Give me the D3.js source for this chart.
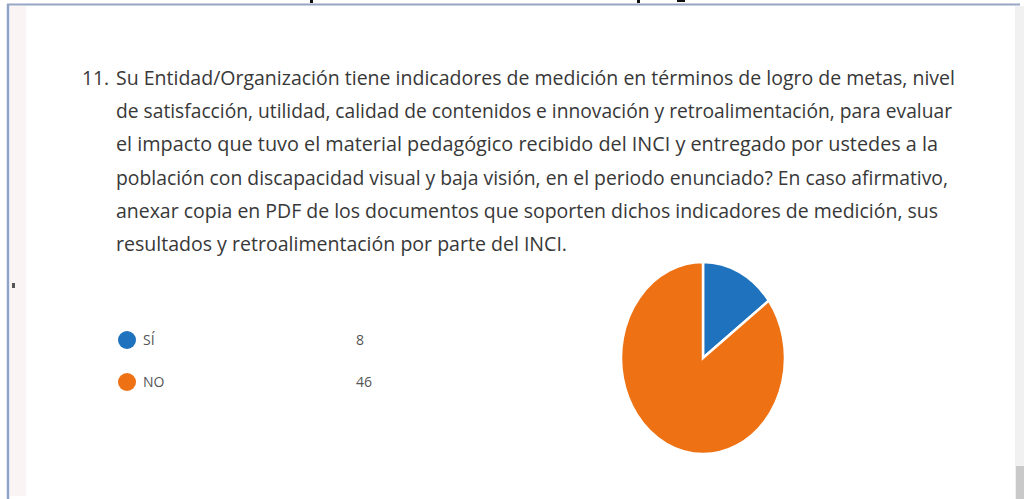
<!DOCTYPE html>
<html>
<head>
<meta charset="utf-8">
<script src="https://cdn.jsdelivr.net/npm/d3@7"></script>
<style>
  body { margin: 0; background: #fff; }
  svg { display: block; }
</style>
</head>
<body>
<script>
// data
const categories = ["SÍ", "NO"]
const counts = [8, 46]
const colors = ["#1f72bd", "#ee7114"]

const questionNumber = "11."
const questionLines = [
  "Su Entidad/Organización tiene indicadores de medición en términos de logro de metas, nivel",
  "de satisfacción, utilidad, calidad de contenidos e innovación y retroalimentación, para evaluar",
  "el impacto que tuvo el material pedagógico recibido del INCI y entregado por ustedes a la",
  "población con discapacidad visual y baja visión, en el periodo enunciado? En caso afirmativo,",
  "anexar copia en PDF de los documentos que soporten dichos indicadores de medición, sus",
  "resultados y retroalimentación por parte del INCI."
]
const lineWidths = [839, 836, 822, 832, 822, 451]

const width = 1024
const height = 499

const svg = d3.select("body").append("svg")
    .attr("width", width)
    .attr("height", height)

// frame of the screenshot
svg.append("rect")
    .attr("x", 10).attr("y", 6).attr("width", 16).attr("height", 490)
    .style("fill", "#faf5f4")
svg.append("line")
    .attr("x1", 8).attr("x2", 8).attr("y1", 4).attr("y2", 499)
    .style("stroke", "#8ea3c8").style("stroke-width", 2.5)
svg.append("line")
    .attr("x1", 7).attr("x2", 1020).attr("y1", 4.5).attr("y2", 4.5)
    .style("stroke", "#96a6c4").style("stroke-width", 2)
svg.append("rect")
    .attr("x", 1015).attr("y", 6).attr("width", 9).attr("height", 493)
    .style("fill", "#f1f1f1")
svg.append("rect")
    .attr("x", 1016).attr("y", 466).attr("width", 8).attr("height", 33)
    .style("fill", "#c9c9c9")
svg.append("rect")
    .attr("x", 12).attr("y", 283).attr("width", 3).attr("height", 5)
    .style("fill", "#555")

// cut off heading fragments at the very top
svg.append("rect").attr("x", 310).attr("y", 0).attr("width", 3).attr("height", 3).style("fill", "#111")
svg.append("rect").attr("x", 637).attr("y", 0).attr("width", 3).attr("height", 3).style("fill", "#111")
svg.append("rect").attr("x", 677).attr("y", 0).attr("width", 8).attr("height", 2).style("fill", "#111")

// question text
const font = "'Open Sans', 'Noto Sans', sans-serif"
svg.append("text")
    .attr("x", 82).attr("y", 85)
    .attr("textLength", 27)
    .attr("lengthAdjust", "spacingAndGlyphs")
    .style("font-family", font).style("font-size", "20px").style("fill", "#383838")
    .text(questionNumber)

svg.selectAll("text.q")
    .data(questionLines)
    .enter()
    .append("text")
    .attr("class", "q")
    .attr("x", 116)
    .attr("y", (d, i) => 85 + i * 33.2)
    .attr("textLength", (d, i) => lineWidths[i])
    .attr("lengthAdjust", "spacingAndGlyphs")
    .style("font-family", font).style("font-size", "20px").style("fill", "#383838")
    .text(d => d)

// legend
const legend = svg.selectAll("g.legend")
    .data(categories)
    .enter()
    .append("g")
    .attr("class", "legend")
    .attr("transform", (d, i) => `translate(127, ${340 + i * 42})`)

legend.append("circle")
    .attr("r", 9)
    .style("fill", (d, i) => colors[i])
legend.append("text")
    .attr("x", 16).attr("y", 5)
    .style("font-family", font).style("font-size", "14px").style("fill", "#555")
    .text(d => d)
legend.append("text")
    .attr("x", 229).attr("y", 5)
    .style("font-family", font).style("font-size", "14px").style("fill", "#555")
    .text((d, i) => counts[i])

// pie, squashed into an ellipse like the source image
const r = 100
const rx = 82
const ry = 96
const pie = d3.pie().sort(null)
const arc = d3.arc().innerRadius(0).outerRadius(r)

const pieGroup = svg.append("g")
    .attr("transform", `translate(703, 358) scale(${rx / r}, ${ry / r})`)

pieGroup.selectAll("path")
    .data(pie(counts))
    .enter()
    .append("path")
    .attr("d", arc)
    .style("fill", (d, i) => colors[i])
    .style("stroke", "#fff")
    .style("stroke-width", 2.5)
    .attr("vector-effect", "non-scaling-stroke")
</script>
</body>
</html>
